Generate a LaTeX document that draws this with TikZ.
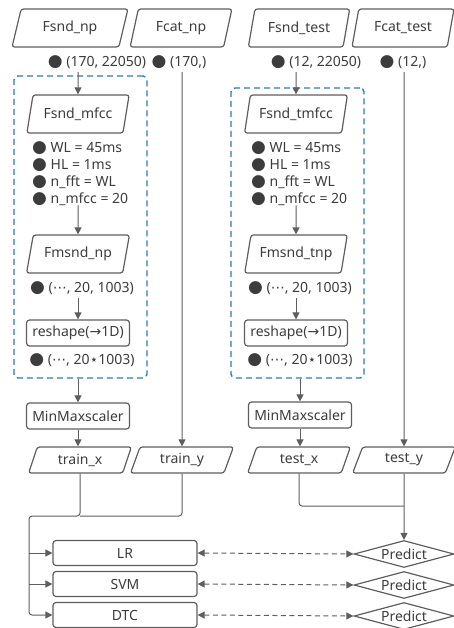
\documentclass[tikz,border=0pt]{standalone}
\usepackage{fontspec}
\setmainfont{Noto Sans}
\newfontfamily\symb{DejaVu Sans}
\usetikzlibrary{shapes.geometric, arrows.meta, positioning}
\definecolor{linegray}{HTML}{5E5E5E}
\definecolor{textgray}{HTML}{3C3C3C}
\definecolor{grpblue}{HTML}{2B7BB9}
\newcommand{\bul}{{\symb\fontsize{17}{17}\selectfont\char"25CF}\ }
\newcommand{\cdd}{{\symb\char"22EF}}
\newcommand{\st}{{\symb\char"22C6}}

\tikzset{
  every node/.style={text=textgray, font=\fontsize{14}{17}\selectfont},
  data/.style={draw=linegray, line width=1.2pt, trapezium, trapezium left angle=70,
    trapezium right angle=110, trapezium stretches=true, rounded corners=2.5pt,
    minimum height=38, minimum width=103, inner sep=0pt},
  proc/.style={draw=linegray, line width=1.2pt, rectangle, rounded corners=3pt,
    minimum width=103, minimum height=26, inner sep=1pt},
  grp/.style={draw=grpblue, line width=1.4pt, dash pattern=on 6pt off 4pt,
    rounded corners=4pt, inner sep=0pt},
  pred/.style={diamond, aspect=3.7, draw=linegray, line width=1.2pt, minimum width=100,
    minimum height=27, inner sep=0pt},
  conn/.style={draw=linegray, line width=1pt},
  arr/.style={conn, -{Triangle[length=7pt,width=7pt]}},
  darr/.style={conn, dash pattern=on 5pt off 3.5pt,
    {Triangle[length=7pt,width=7pt]}-{Triangle[length=7pt,width=7pt]}}
}

\begin{document}
\begin{tikzpicture}[x=1pt, y=-1pt]
\useasboundingbox (0,0) rectangle (454,628);

% inputs
\node[data, minimum width=116] (sndnp) at (70,28) {Fsnd\_np};
\node[data, minimum width=102] (catnp) at (181,28) {Fcat\_np};
\node[data, minimum width=102] (sndtest) at (299,28) {Fsnd\_test};
\node[data, minimum width=102] (cattest) at (403,28) {Fcat\_test};

\node (shpA) at (97,62) {\bul(170, 22050)};
\node (shpB) at (179,62) {\bul(170,)};
\node (shpC) at (316,62) {\bul(12, 22050)};
\node (shpD) at (403,62) {\bul(12,)};

% feature groups
\node[grp, minimum width=133, minimum height=302] (grpA) at (80.5,227) {};
\node[grp, minimum width=133, minimum height=290] (grpB) at (297.5,233) {};

\node[data] (mfcc) at (78,114) {Fsnd\_mfcc};
\node[data] (tmfcc) at (296,114) {Fsnd\_tmfcc};

\node[align=left, anchor=north west, inner sep=0pt] (parA) at (32,141)
  {\bul WL = 45ms\\ \bul HL = 1ms\\ \bul n\_fft = WL\\ \bul n\_mfcc = 20};
\node[align=left, anchor=north west, inner sep=0pt] (parB) at (251,141)
  {\bul WL = 45ms\\ \bul HL = 1ms\\ \bul n\_fft = WL\\ \bul n\_mfcc = 20};

\node[data] (fmsnd) at (78,254) {Fmsnd\_np};
\node[data] (tfmsnd) at (296,254) {Fmsnd\_tnp};

\node (dimA) at (82,288) {\bul(\cdd, 20, 1003)};
\node (dimC) at (300,288) {\bul(\cdd, 20, 1003)};

\node[proc] (reshA) at (78,333) {reshape({\symb\char"2192}1D)};
\node[proc] (reshB) at (296,333) {reshape({\symb\char"2192}1D)};

\node (dimB) at (82,360) {\bul(\cdd, 20\st1003)};
\node (dimD) at (300,360) {\bul(\cdd, 20\st1003)};

% scaling and splits
\node[proc] (mmA) at (78,416) {MinMaxscaler};
\node[proc] (mmB) at (300,415) {MinMaxscaler};

\node[data, minimum height=26] (trainx) at (80,460) {train\_x};
\node[data, minimum height=26] (trainy) at (182,460) {train\_y};
\node[data, minimum height=26] (testx) at (299,460) {test\_x};
\node[data, minimum height=26] (testy) at (404,460) {test\_y};

% models
\node[proc, minimum width=144, minimum height=25] (lr) at (125,553) {LR};
\node[proc, minimum width=144, minimum height=25] (svm) at (125,584) {SVM};
\node[proc, minimum width=144, minimum height=25] (dtc) at (125,615) {DTC};

\node[pred] (pA) at (404,554) {Predict};
\node[pred] (pB) at (404,585) {Predict};
\node[pred] (pC) at (404,616) {Predict};

% connectors
\draw[arr] (shpA.south -| mfcc) -- (mfcc);
\draw[arr] (shpC.south -| tmfcc) -- (tmfcc);
\draw[arr] (parA.south -| fmsnd) -- (fmsnd);
\draw[arr] (parB.south -| tfmsnd) -- (tfmsnd);
\draw[arr] (dimA.south -| reshA) -- (reshA);
\draw[arr] (dimC.south -| reshB) -- (reshB);
\draw[arr] (grpA.south -| mmA) -- (mmA);
\draw[arr] (grpB.south -| mmB) -- (mmB);
\draw[arr] (mmA) -- (mmA.south |- trainx.north);
\draw[arr] (mmB) -- (mmB.south |- testx.north);
\draw[arr] (shpB.south -| trainy) -- (trainy);
\draw[arr] (shpD.south -| testy) -- (testy);

\coordinate (jn) at (29,516);
\draw[conn, rounded corners=3pt] (trainy.south) |- (trainx.south |- jn);
\draw[arr, rounded corners=3pt] (trainx.south) |- (jn) |- (dtc.west);
\draw[arr] (jn |- lr) -- (lr.west);
\draw[arr] (jn |- svm) -- (svm.west);

\coordinate (tj) at (0,506);
\draw[conn, rounded corners=3pt] (testx.south) |- (testy.south |- tj);
\draw[arr] (testy.south) -- (pA.north);

\draw[darr] (lr.east) -- (pA.west);
\draw[darr] (svm.east) -- (pB.west);
\draw[darr] (dtc.east) -- (pC.west);
\end{tikzpicture}
\end{document}
